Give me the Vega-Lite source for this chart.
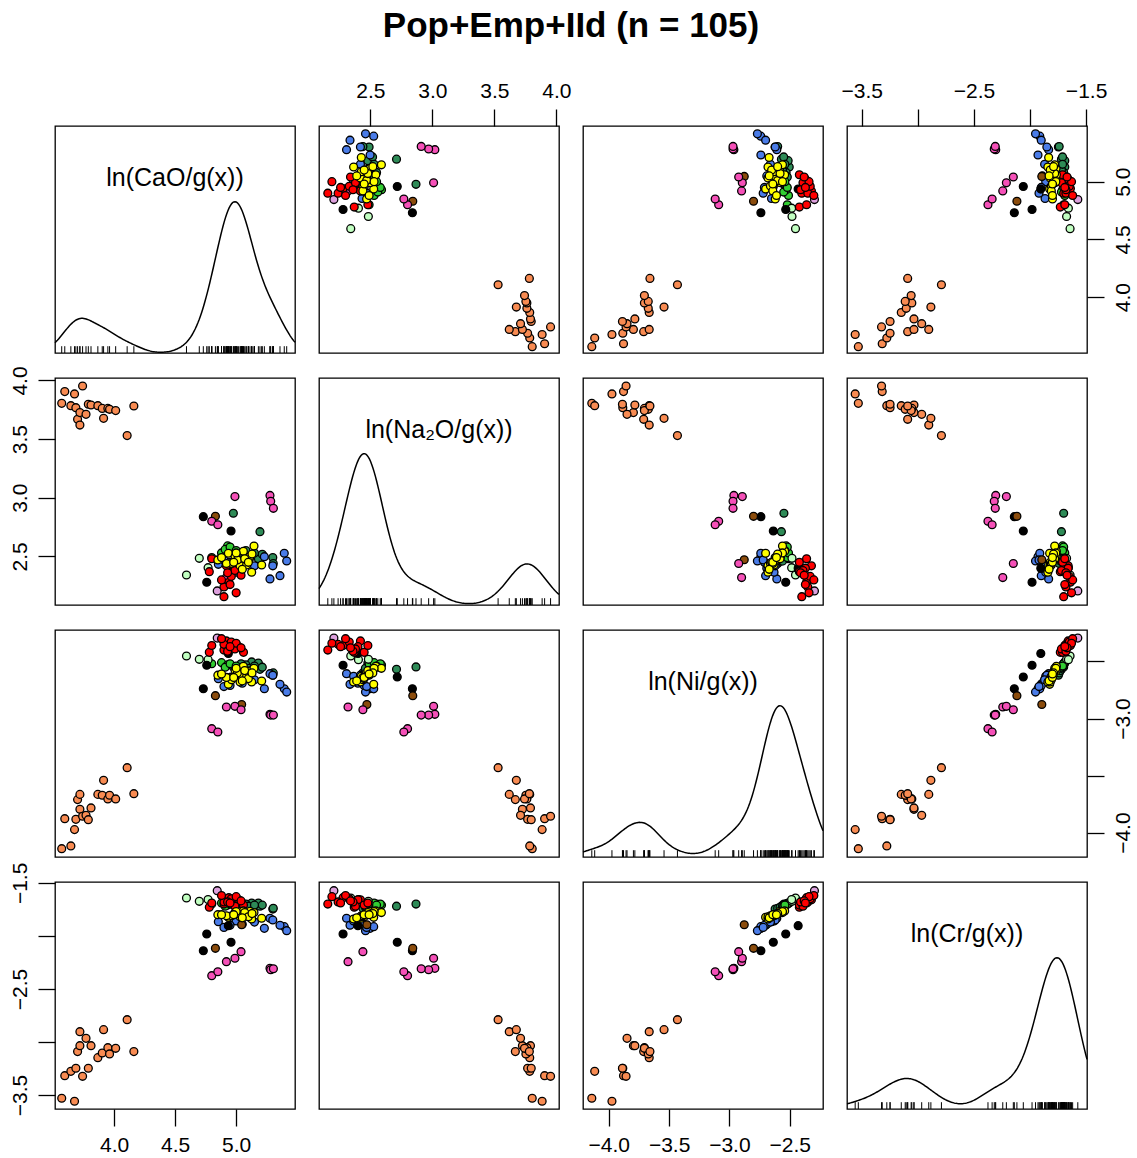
{
"$schema":"https://vega.github.io/schema/vega-lite/v6.json",
"padding":{"left":8,"top":9,"right":5,"bottom":5},
"title":{"text":"Pop+Emp+IId (n = 105)","fontSize":35,"fontWeight":"bold","font":"Liberation Sans","color":"black","anchor":"middle","frame":"bounds","offset":35},
"config":{"view":{"stroke":"black","strokeWidth":1.3},"axis":{"domain":false,"grid":false,"ticks":true,"tickColor":"black","tickSize":17,"tickWidth":1.3,"labelFont":"Liberation Sans","labelFontSize":21,"labelColor":"black","labelPadding":8,"format":".1f","labelOverlap":false,"labelFlush":false,"labelBound":false}},
"datasets":{"pts":[
{"CaO":3.571,"Na2O":3.805,"Ni":-4.141,"Cr":-3.531,"g":"orange"},
{"CaO":3.596,"Na2O":3.905,"Ni":-3.878,"Cr":-3.318,"g":"orange"},
{"CaO":3.646,"Na2O":3.785,"Ni":-4.117,"Cr":-3.277,"g":"orange"},
{"CaO":3.676,"Na2O":3.885,"Ni":-3.974,"Cr":-3.559,"g":"orange"},
{"CaO":3.687,"Na2O":3.768,"Ni":-3.884,"Cr":-3.248,"g":"orange"},
{"CaO":3.701,"Na2O":3.669,"Ni":-3.711,"Cr":-3.091,"g":"orange"},
{"CaO":3.720,"Na2O":3.620,"Ni":-3.665,"Cr":-2.903,"g":"orange"},
{"CaO":3.720,"Na2O":3.726,"Ni":-3.796,"Cr":-3.035,"g":"orange"},
{"CaO":3.742,"Na2O":3.953,"Ni":-3.857,"Cr":-3.324,"g":"orange"},
{"CaO":3.770,"Na2O":3.711,"Ni":-3.849,"Cr":-2.966,"g":"orange"},
{"CaO":3.789,"Na2O":3.797,"Ni":-3.887,"Cr":-3.248,"g":"orange"},
{"CaO":3.811,"Na2O":3.791,"Ni":-3.784,"Cr":-3.035,"g":"orange"},
{"CaO":3.867,"Na2O":3.785,"Ni":-3.665,"Cr":-3.148,"g":"orange"},
{"CaO":3.903,"Na2O":3.762,"Ni":-3.673,"Cr":-3.104,"g":"orange"},
{"CaO":3.914,"Na2O":3.677,"Ni":-3.542,"Cr":-2.884,"g":"orange"},
{"CaO":3.949,"Na2O":3.762,"Ni":-3.705,"Cr":-3.054,"g":"orange"},
{"CaO":3.963,"Na2O":3.754,"Ni":-3.673,"Cr":-3.113,"g":"orange"},
{"CaO":4.013,"Na2O":3.743,"Ni":-3.705,"Cr":-3.060,"g":"orange"},
{"CaO":4.107,"Na2O":3.530,"Ni":-3.431,"Cr":-2.790,"g":"orange"},
{"CaO":4.162,"Na2O":3.782,"Ni":-3.659,"Cr":-3.091,"g":"orange"},
{"CaO":4.977,"Na2O":2.868,"Ni":-2.548,"Cr":-1.70,"g":"seagreen"},
{"CaO":5.195,"Na2O":2.711,"Ni":-2.569,"Cr":-1.72,"g":"seagreen"},
{"CaO":5.300,"Na2O":2.490,"Ni":-2.621,"Cr":-1.747,"g":"seagreen"},
{"CaO":5.304,"Na2O":2.440,"Ni":-2.600,"Cr":-1.74,"g":"seagreen"},
{"CaO":5.127,"Na2O":2.500,"Ni":-2.504,"Cr":-1.69,"g":"seagreen"},
{"CaO":5.182,"Na2O":2.480,"Ni":-2.513,"Cr":-1.69,"g":"seagreen"},
{"CaO":5.214,"Na2O":2.518,"Ni":-2.550,"Cr":-1.71,"g":"seagreen"},
{"CaO":5.100,"Na2O":2.460,"Ni":-2.580,"Cr":-1.73,"g":"seagreen"},
{"CaO":5.080,"Na2O":2.550,"Ni":-2.530,"Cr":-1.70,"g":"seagreen"},
{"CaO":5.100,"Na2O":2.460,"Ni":-2.560,"Cr":-1.72,"g":"seagreen"},
{"CaO":5.050,"Na2O":2.500,"Ni":-2.530,"Cr":-1.70,"g":"seagreen"},
{"CaO":5.150,"Na2O":2.530,"Ni":-2.540,"Cr":-1.71,"g":"seagreen"},
{"CaO":5.040,"Na2O":2.490,"Ni":-2.520,"Cr":-1.70,"g":"seagreen"},
{"CaO":4.800,"Na2O":2.490,"Ni":-2.520,"Cr":-1.70,"g":"lime"},
{"CaO":4.880,"Na2O":2.530,"Ni":-2.510,"Cr":-1.69,"g":"lime"},
{"CaO":4.930,"Na2O":2.590,"Ni":-2.530,"Cr":-1.71,"g":"lime"},
{"CaO":4.910,"Na2O":2.560,"Ni":-2.550,"Cr":-1.72,"g":"lime"},
{"CaO":4.950,"Na2O":2.580,"Ni":-2.520,"Cr":-1.70,"g":"lime"},
{"CaO":5.000,"Na2O":2.550,"Ni":-2.540,"Cr":-1.71,"g":"lime"},
{"CaO":4.854,"Na2O":2.433,"Ni":-2.651,"Cr":-1.866,"g":"blue"},
{"CaO":5.231,"Na2O":2.498,"Ni":-2.739,"Cr":-1.929,"g":"blue"},
{"CaO":5.394,"Na2O":2.527,"Ni":-2.740,"Cr":-1.913,"g":"blue"},
{"CaO":5.414,"Na2O":2.461,"Ni":-2.768,"Cr":-1.951,"g":"blue"},
{"CaO":5.277,"Na2O":2.308,"Ni":-2.607,"Cr":-1.834,"g":"blue"},
{"CaO":5.359,"Na2O":2.336,"Ni":-2.700,"Cr":-1.900,"g":"blue"},
{"CaO":5.000,"Na2O":2.365,"Ni":-2.630,"Cr":-1.860,"g":"blue"},
{"CaO":5.300,"Na2O":2.420,"Ni":-2.620,"Cr":-1.850,"g":"blue"},
{"CaO":5.050,"Na2O":2.400,"Ni":-2.690,"Cr":-1.890,"g":"blue"},
{"CaO":4.950,"Na2O":2.450,"Ni":-2.710,"Cr":-1.900,"g":"blue"},
{"CaO":5.150,"Na2O":2.420,"Ni":-2.660,"Cr":-1.870,"g":"blue"},
{"CaO":4.900,"Na2O":2.470,"Ni":-2.720,"Cr":-1.920,"g":"blue"},
{"CaO":4.593,"Na2O":2.342,"Ni":-2.452,"Cr":-1.643,"g":"palegreen"},
{"CaO":4.698,"Na2O":2.484,"Ni":-2.481,"Cr":-1.674,"g":"palegreen"},
{"CaO":4.770,"Na2O":2.404,"Ni":-2.484,"Cr":-1.658,"g":"palegreen"},
{"CaO":4.759,"Na2O":2.280,"Ni":-2.533,"Cr":-1.982,"g":"black"},
{"CaO":4.731,"Na2O":2.839,"Ni":-2.739,"Cr":-2.140,"g":"black"},
{"CaO":4.958,"Na2O":2.717,"Ni":-2.636,"Cr":-2.060,"g":"black"},
{"CaO":4.936,"Na2O":2.400,"Ni":-2.430,"Cr":-1.904,"g":"black"},
{"CaO":4.830,"Na2O":2.842,"Ni":-2.800,"Cr":-2.117,"g":"brown"},
{"CaO":5.045,"Na2O":2.472,"Ni":-2.877,"Cr":-1.895,"g":"brown"},
{"CaO":4.800,"Na2O":2.800,"Ni":-3.089,"Cr":-2.375,"g":"pink"},
{"CaO":4.850,"Na2O":2.770,"Ni":-3.118,"Cr":-2.338,"g":"pink"},
{"CaO":4.920,"Na2O":2.320,"Ni":-2.899,"Cr":-2.243,"g":"pink"},
{"CaO":4.990,"Na2O":3.010,"Ni":-2.893,"Cr":-2.211,"g":"pink"},
{"CaO":5.040,"Na2O":2.440,"Ni":-2.923,"Cr":-2.149,"g":"pink"},
{"CaO":5.277,"Na2O":3.020,"Ni":-2.963,"Cr":-2.306,"g":"pink"},
{"CaO":5.283,"Na2O":2.970,"Ni":-2.970,"Cr":-2.319,"g":"pink"},
{"CaO":5.305,"Na2O":2.910,"Ni":-2.970,"Cr":-2.310,"g":"pink"},
{"CaO":4.845,"Na2O":2.206,"Ni":-2.295,"Cr":-1.574,"g":"plum"},
{"CaO":4.900,"Na2O":2.157,"Ni":-2.400,"Cr":-1.70,"g":"red"},
{"CaO":4.780,"Na2O":2.370,"Ni":-2.420,"Cr":-1.73,"g":"red"},
{"CaO":4.920,"Na2O":2.420,"Ni":-2.320,"Cr":-1.66,"g":"red"},
{"CaO":5.020,"Na2O":2.400,"Ni":-2.370,"Cr":-1.66,"g":"red"},
{"CaO":4.940,"Na2O":2.280,"Ni":-2.360,"Cr":-1.64,"g":"red"},
{"CaO":4.900,"Na2O":2.240,"Ni":-2.350,"Cr":-1.68,"g":"red"},
{"CaO":5.060,"Na2O":2.450,"Ni":-2.420,"Cr":-1.71,"g":"red"},
{"CaO":4.800,"Na2O":2.480,"Ni":-2.360,"Cr":-1.69,"g":"red"},
{"CaO":4.960,"Na2O":2.330,"Ni":-2.330,"Cr":-1.65,"g":"red"},
{"CaO":4.990,"Na2O":2.380,"Ni":-2.390,"Cr":-1.72,"g":"red"},
{"CaO":4.880,"Na2O":2.300,"Ni":-2.300,"Cr":-1.62,"g":"red"},
{"CaO":5.000,"Na2O":2.190,"Ni":-2.340,"Cr":-1.63,"g":"red"},
{"CaO":4.930,"Na2O":2.360,"Ni":-2.410,"Cr":-1.68,"g":"red"},
{"CaO":5.040,"Na2O":2.340,"Ni":-2.380,"Cr":-1.67,"g":"red"},
{"CaO":4.950,"Na2O":2.260,"Ni":-2.370,"Cr":-1.69,"g":"red"},
{"CaO":4.936,"Na2O":2.527,"Ni":-2.700,"Cr":-1.825,"g":"yellow"},
{"CaO":4.991,"Na2O":2.498,"Ni":-2.577,"Cr":-1.778,"g":"yellow"},
{"CaO":5.045,"Na2O":2.455,"Ni":-2.620,"Cr":-1.800,"g":"yellow"},
{"CaO":5.113,"Na2O":2.498,"Ni":-2.583,"Cr":-1.768,"g":"yellow"},
{"CaO":5.209,"Na2O":2.427,"Ni":-2.671,"Cr":-1.834,"g":"yellow"},
{"CaO":5.127,"Na2O":2.365,"Ni":-2.680,"Cr":-1.841,"g":"yellow"},
{"CaO":5.032,"Na2O":2.420,"Ni":-2.680,"Cr":-1.820,"g":"yellow"},
{"CaO":5.086,"Na2O":2.427,"Ni":-2.630,"Cr":-1.810,"g":"yellow"},
{"CaO":5.059,"Na2O":2.544,"Ni":-2.542,"Cr":-1.765,"g":"yellow"},
{"CaO":4.963,"Na2O":2.441,"Ni":-2.660,"Cr":-1.810,"g":"yellow"},
{"CaO":4.850,"Na2O":2.470,"Ni":-2.620,"Cr":-1.800,"g":"yellow"},
{"CaO":5.146,"Na2O":2.589,"Ni":-2.560,"Cr":-1.780,"g":"yellow"},
{"CaO":5.010,"Na2O":2.470,"Ni":-2.600,"Cr":-1.790,"g":"yellow"},
{"CaO":5.070,"Na2O":2.480,"Ni":-2.580,"Cr":-1.780,"g":"yellow"},
{"CaO":5.100,"Na2O":2.450,"Ni":-2.650,"Cr":-1.820,"g":"yellow"},
{"CaO":4.920,"Na2O":2.440,"Ni":-2.640,"Cr":-1.810,"g":"yellow"},
{"CaO":5.000,"Na2O":2.530,"Ni":-2.560,"Cr":-1.770,"g":"yellow"},
{"CaO":5.050,"Na2O":2.390,"Ni":-2.670,"Cr":-1.830,"g":"yellow"},
{"CaO":5.130,"Na2O":2.520,"Ni":-2.600,"Cr":-1.790,"g":"yellow"},
{"CaO":4.980,"Na2O":2.450,"Ni":-2.640,"Cr":-1.800,"g":"yellow"},
{"CaO":4.880,"Na2O":2.490,"Ni":-2.610,"Cr":-1.800,"g":"yellow"}
]},
"data":{"name":"pts"},
"columns":4,
"spacing":{"row":25,"column":24},
"bounds":"flush",
"align":"all",
"concat":[
 {"width":240,"height":227,"layer":[
  {"transform":[{"density":"CaO","bandwidth":0.1,"extent":[3.516,5.482],"steps":200,"as":["v","d"]}],"mark":{"type":"line","color":"black","strokeWidth":1.5},"encoding":{"x":{"field":"v","type":"quantitative","scale":{"domain":[3.516,5.482],"nice":false,"zero":false},"axis":null},"y":{"field":"d","type":"quantitative","scale":{"zero":true,"nice":false,"range":[227,75.67]},"axis":null}}},
  {"mark":{"type":"rule","color":"black","strokeWidth":1},"encoding":{"x":{"field":"CaO","type":"quantitative","axis":null},"y":{"datum":0,"type":"quantitative","scale":{"domain":[0,1]},"axis":null},"y2":{"datum":0.03}}},
  {"data":{"values":[{"lab":"ln(CaO/g(x))"}]},"mark":{"type":"text","fontSize":25,"font":"Liberation Sans","color":"black"},"encoding":{"x":{"datum":4.499,"type":"quantitative","axis":null},"y":{"datum":0.77,"type":"quantitative","scale":{"domain":[0,1]},"axis":null},"text":{"field":"lab"}}}
 ],"resolve":{"scale":{"y":"independent"}}},
 {"width":240,"height":227,"mark":{"type":"circle","size":62,"stroke":"black","strokeWidth":1.3,"opacity":1},"encoding":{
  "x":{"field":"Na2O","type":"quantitative","scale":{"domain":[2.086,4.021],"nice":false,"zero":false},"axis":{"orient":"top","values":[2.5,3,3.5,4],"title":null}},
  "y":{"field":"CaO","type":"quantitative","scale":{"domain":[3.516,5.482],"nice":false,"zero":false},"axis":null},
  "fill":{"field":"g","type":"nominal","scale":{"domain":["orange","red","yellow","blue","seagreen","lime","palegreen","black","brown","pink","plum"],"range":["#F88B52","#FF0000","#FFFF00","#4A7CE8","#2E8B57","#32CD32","#C1FFC1","#000000","#8B4C0C","#F550B8","#DDA0DD"]},"legend":null}}},
 {"width":240,"height":227,"mark":{"type":"circle","size":62,"stroke":"black","strokeWidth":1.3,"opacity":1},"encoding":{
  "x":{"field":"Ni","type":"quantitative","scale":{"domain":[-4.214,-2.224],"nice":false,"zero":false},"axis":null},
  "y":{"field":"CaO","type":"quantitative","scale":{"domain":[3.516,5.482],"nice":false,"zero":false},"axis":null},
  "fill":{"field":"g","type":"nominal","scale":{"domain":["orange","red","yellow","blue","seagreen","lime","palegreen","black","brown","pink","plum"],"range":["#F88B52","#FF0000","#FFFF00","#4A7CE8","#2E8B57","#32CD32","#C1FFC1","#000000","#8B4C0C","#F550B8","#DDA0DD"]},"legend":null}}},
 {"width":240,"height":227,"mark":{"type":"circle","size":62,"stroke":"black","strokeWidth":1.3,"opacity":1},"encoding":{
  "x":{"field":"Cr","type":"quantitative","scale":{"domain":[-3.632,-1.492],"nice":false,"zero":false},"axis":{"orient":"top","values":[-3.5,-3,-2.5,-2,-1.5],"labelExpr":"datum.value == -3 || datum.value == -2 ? '' : datum.label","title":null}},
  "y":{"field":"CaO","type":"quantitative","scale":{"domain":[3.516,5.482],"nice":false,"zero":false},"axis":{"orient":"right","values":[4,4.5,5],"labelAngle":-90,"labelAlign":"center","labelBaseline":"top","title":null}},
  "fill":{"field":"g","type":"nominal","scale":{"domain":["orange","red","yellow","blue","seagreen","lime","palegreen","black","brown","pink","plum"],"range":["#F88B52","#FF0000","#FFFF00","#4A7CE8","#2E8B57","#32CD32","#C1FFC1","#000000","#8B4C0C","#F550B8","#DDA0DD"]},"legend":null}}},
 {"width":240,"height":227,"mark":{"type":"circle","size":62,"stroke":"black","strokeWidth":1.3,"opacity":1},"encoding":{
  "x":{"field":"CaO","type":"quantitative","scale":{"domain":[3.516,5.482],"nice":false,"zero":false},"axis":null},
  "y":{"field":"Na2O","type":"quantitative","scale":{"domain":[2.086,4.021],"nice":false,"zero":false},"axis":{"orient":"left","values":[2.5,3,3.5,4],"labelAngle":-90,"labelAlign":"center","labelBaseline":"bottom","title":null}},
  "fill":{"field":"g","type":"nominal","scale":{"domain":["orange","red","yellow","blue","seagreen","lime","palegreen","black","brown","pink","plum"],"range":["#F88B52","#FF0000","#FFFF00","#4A7CE8","#2E8B57","#32CD32","#C1FFC1","#000000","#8B4C0C","#F550B8","#DDA0DD"]},"legend":null}}},
 {"width":240,"height":227,"layer":[
  {"transform":[{"density":"Na2O","extent":[2.086,4.021],"steps":200,"as":["v","d"]}],"mark":{"type":"line","color":"black","strokeWidth":1.5},"encoding":{"x":{"field":"v","type":"quantitative","scale":{"domain":[2.086,4.021],"nice":false,"zero":false},"axis":null},"y":{"field":"d","type":"quantitative","scale":{"zero":true,"nice":false,"range":[227,75.67]},"axis":null}}},
  {"mark":{"type":"rule","color":"black","strokeWidth":1},"encoding":{"x":{"field":"Na2O","type":"quantitative","axis":null},"y":{"datum":0,"type":"quantitative","scale":{"domain":[0,1]},"axis":null},"y2":{"datum":0.03}}},
  {"data":{"values":[{"lab":"ln(Na₂O/g(x))"}]},"mark":{"type":"text","fontSize":25,"font":"Liberation Sans","color":"black"},"encoding":{"x":{"datum":3.0535,"type":"quantitative","axis":null},"y":{"datum":0.77,"type":"quantitative","scale":{"domain":[0,1]},"axis":null},"text":{"field":"lab"}}}
 ],"resolve":{"scale":{"y":"independent"}}},
 {"width":240,"height":227,"mark":{"type":"circle","size":62,"stroke":"black","strokeWidth":1.3,"opacity":1},"encoding":{
  "x":{"field":"Ni","type":"quantitative","scale":{"domain":[-4.214,-2.224],"nice":false,"zero":false},"axis":null},
  "y":{"field":"Na2O","type":"quantitative","scale":{"domain":[2.086,4.021],"nice":false,"zero":false},"axis":null},
  "fill":{"field":"g","type":"nominal","scale":{"domain":["orange","red","yellow","blue","seagreen","lime","palegreen","black","brown","pink","plum"],"range":["#F88B52","#FF0000","#FFFF00","#4A7CE8","#2E8B57","#32CD32","#C1FFC1","#000000","#8B4C0C","#F550B8","#DDA0DD"]},"legend":null}}},
 {"width":240,"height":227,"mark":{"type":"circle","size":62,"stroke":"black","strokeWidth":1.3,"opacity":1},"encoding":{
  "x":{"field":"Cr","type":"quantitative","scale":{"domain":[-3.632,-1.492],"nice":false,"zero":false},"axis":null},
  "y":{"field":"Na2O","type":"quantitative","scale":{"domain":[2.086,4.021],"nice":false,"zero":false},"axis":null},
  "fill":{"field":"g","type":"nominal","scale":{"domain":["orange","red","yellow","blue","seagreen","lime","palegreen","black","brown","pink","plum"],"range":["#F88B52","#FF0000","#FFFF00","#4A7CE8","#2E8B57","#32CD32","#C1FFC1","#000000","#8B4C0C","#F550B8","#DDA0DD"]},"legend":null}}},
 {"width":240,"height":227,"mark":{"type":"circle","size":62,"stroke":"black","strokeWidth":1.3,"opacity":1},"encoding":{
  "x":{"field":"CaO","type":"quantitative","scale":{"domain":[3.516,5.482],"nice":false,"zero":false},"axis":null},
  "y":{"field":"Ni","type":"quantitative","scale":{"domain":[-4.214,-2.224],"nice":false,"zero":false},"axis":null},
  "fill":{"field":"g","type":"nominal","scale":{"domain":["orange","red","yellow","blue","seagreen","lime","palegreen","black","brown","pink","plum"],"range":["#F88B52","#FF0000","#FFFF00","#4A7CE8","#2E8B57","#32CD32","#C1FFC1","#000000","#8B4C0C","#F550B8","#DDA0DD"]},"legend":null}}},
 {"width":240,"height":227,"mark":{"type":"circle","size":62,"stroke":"black","strokeWidth":1.3,"opacity":1},"encoding":{
  "x":{"field":"Na2O","type":"quantitative","scale":{"domain":[2.086,4.021],"nice":false,"zero":false},"axis":null},
  "y":{"field":"Ni","type":"quantitative","scale":{"domain":[-4.214,-2.224],"nice":false,"zero":false},"axis":null},
  "fill":{"field":"g","type":"nominal","scale":{"domain":["orange","red","yellow","blue","seagreen","lime","palegreen","black","brown","pink","plum"],"range":["#F88B52","#FF0000","#FFFF00","#4A7CE8","#2E8B57","#32CD32","#C1FFC1","#000000","#8B4C0C","#F550B8","#DDA0DD"]},"legend":null}}},
 {"width":240,"height":227,"layer":[
  {"transform":[{"density":"Ni","extent":[-4.214,-2.224],"steps":200,"as":["v","d"]}],"mark":{"type":"line","color":"black","strokeWidth":1.5},"encoding":{"x":{"field":"v","type":"quantitative","scale":{"domain":[-4.214,-2.224],"nice":false,"zero":false},"axis":null},"y":{"field":"d","type":"quantitative","scale":{"zero":true,"nice":false,"range":[227,75.67]},"axis":null}}},
  {"mark":{"type":"rule","color":"black","strokeWidth":1},"encoding":{"x":{"field":"Ni","type":"quantitative","axis":null},"y":{"datum":0,"type":"quantitative","scale":{"domain":[0,1]},"axis":null},"y2":{"datum":0.03}}},
  {"data":{"values":[{"lab":"ln(Ni/g(x))"}]},"mark":{"type":"text","fontSize":25,"font":"Liberation Sans","color":"black"},"encoding":{"x":{"datum":-3.219,"type":"quantitative","axis":null},"y":{"datum":0.77,"type":"quantitative","scale":{"domain":[0,1]},"axis":null},"text":{"field":"lab"}}}
 ],"resolve":{"scale":{"y":"independent"}}},
 {"width":240,"height":227,"mark":{"type":"circle","size":62,"stroke":"black","strokeWidth":1.3,"opacity":1},"encoding":{
  "x":{"field":"Cr","type":"quantitative","scale":{"domain":[-3.632,-1.492],"nice":false,"zero":false},"axis":null},
  "y":{"field":"Ni","type":"quantitative","scale":{"domain":[-4.214,-2.224],"nice":false,"zero":false},"axis":{"orient":"right","values":[-4,-3.5,-3,-2.5],"labelExpr":"datum.value == -3.5 || datum.value == -2.5 ? '' : datum.label","labelAngle":-90,"labelAlign":"center","labelBaseline":"top","title":null}},
  "fill":{"field":"g","type":"nominal","scale":{"domain":["orange","red","yellow","blue","seagreen","lime","palegreen","black","brown","pink","plum"],"range":["#F88B52","#FF0000","#FFFF00","#4A7CE8","#2E8B57","#32CD32","#C1FFC1","#000000","#8B4C0C","#F550B8","#DDA0DD"]},"legend":null}}},
 {"width":240,"height":227,"mark":{"type":"circle","size":62,"stroke":"black","strokeWidth":1.3,"opacity":1},"encoding":{
  "x":{"field":"CaO","type":"quantitative","scale":{"domain":[3.516,5.482],"nice":false,"zero":false},"axis":{"orient":"bottom","values":[4,4.5,5],"title":null}},
  "y":{"field":"Cr","type":"quantitative","scale":{"domain":[-3.632,-1.492],"nice":false,"zero":false},"axis":{"orient":"left","values":[-3.5,-3,-2.5,-2,-1.5],"labelExpr":"datum.value == -3 || datum.value == -2 ? '' : datum.label","labelAngle":-90,"labelAlign":"center","labelBaseline":"bottom","title":null}},
  "fill":{"field":"g","type":"nominal","scale":{"domain":["orange","red","yellow","blue","seagreen","lime","palegreen","black","brown","pink","plum"],"range":["#F88B52","#FF0000","#FFFF00","#4A7CE8","#2E8B57","#32CD32","#C1FFC1","#000000","#8B4C0C","#F550B8","#DDA0DD"]},"legend":null}}},
 {"width":240,"height":227,"mark":{"type":"circle","size":62,"stroke":"black","strokeWidth":1.3,"opacity":1},"encoding":{
  "x":{"field":"Na2O","type":"quantitative","scale":{"domain":[2.086,4.021],"nice":false,"zero":false},"axis":null},
  "y":{"field":"Cr","type":"quantitative","scale":{"domain":[-3.632,-1.492],"nice":false,"zero":false},"axis":null},
  "fill":{"field":"g","type":"nominal","scale":{"domain":["orange","red","yellow","blue","seagreen","lime","palegreen","black","brown","pink","plum"],"range":["#F88B52","#FF0000","#FFFF00","#4A7CE8","#2E8B57","#32CD32","#C1FFC1","#000000","#8B4C0C","#F550B8","#DDA0DD"]},"legend":null}}},
 {"width":240,"height":227,"mark":{"type":"circle","size":62,"stroke":"black","strokeWidth":1.3,"opacity":1},"encoding":{
  "x":{"field":"Ni","type":"quantitative","scale":{"domain":[-4.214,-2.224],"nice":false,"zero":false},"axis":{"orient":"bottom","values":[-4,-3.5,-3,-2.5],"title":null}},
  "y":{"field":"Cr","type":"quantitative","scale":{"domain":[-3.632,-1.492],"nice":false,"zero":false},"axis":null},
  "fill":{"field":"g","type":"nominal","scale":{"domain":["orange","red","yellow","blue","seagreen","lime","palegreen","black","brown","pink","plum"],"range":["#F88B52","#FF0000","#FFFF00","#4A7CE8","#2E8B57","#32CD32","#C1FFC1","#000000","#8B4C0C","#F550B8","#DDA0DD"]},"legend":null}}},
 {"width":240,"height":227,"layer":[
  {"transform":[{"density":"Cr","extent":[-3.632,-1.492],"steps":200,"as":["v","d"]}],"mark":{"type":"line","color":"black","strokeWidth":1.5},"encoding":{"x":{"field":"v","type":"quantitative","scale":{"domain":[-3.632,-1.492],"nice":false,"zero":false},"axis":null},"y":{"field":"d","type":"quantitative","scale":{"zero":true,"nice":false,"range":[227,75.67]},"axis":null}}},
  {"mark":{"type":"rule","color":"black","strokeWidth":1},"encoding":{"x":{"field":"Cr","type":"quantitative","axis":null},"y":{"datum":0,"type":"quantitative","scale":{"domain":[0,1]},"axis":null},"y2":{"datum":0.03}}},
  {"data":{"values":[{"lab":"ln(Cr/g(x))"}]},"mark":{"type":"text","fontSize":25,"font":"Liberation Sans","color":"black"},"encoding":{"x":{"datum":-2.562,"type":"quantitative","axis":null},"y":{"datum":0.77,"type":"quantitative","scale":{"domain":[0,1]},"axis":null},"text":{"field":"lab"}}}
 ],"resolve":{"scale":{"y":"independent"}}}
]
}
